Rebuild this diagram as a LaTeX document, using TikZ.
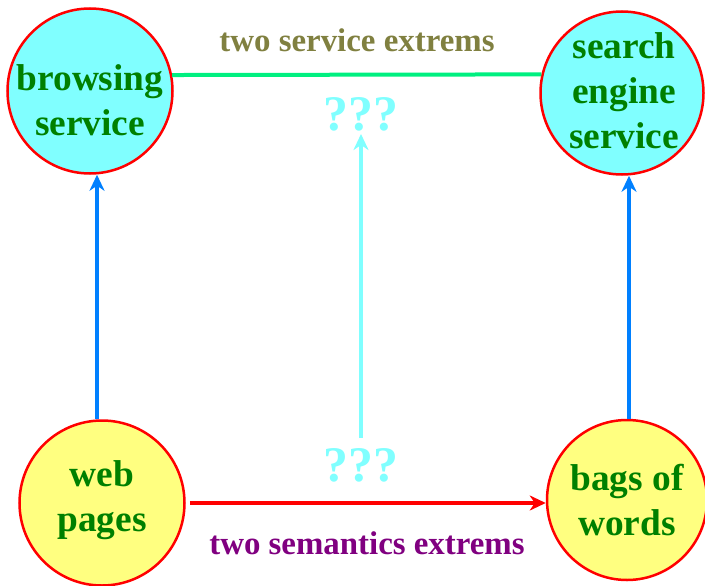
\documentclass[tikz,border=0pt]{standalone}
\usepackage{fontspec}
\setmainfont{Liberation Serif}
\usetikzlibrary{arrows.meta}
\definecolor{cfill}{HTML}{80FFFF}
\definecolor{yfill}{HTML}{FFFF80}
\definecolor{ntext}{HTML}{008000}
\definecolor{olivet}{HTML}{808040}
\definecolor{purplet}{HTML}{800080}
\definecolor{springg}{HTML}{00F080}
\definecolor{bluea}{HTML}{0080FF}
\definecolor{cyana}{HTML}{80FFFF}
\tikzset{
  bigc/.style={circle, draw=red, line width=2.5bp, minimum size=#1, inner sep=0pt},
  ntxt/.style={text=ntext, font=\fontsize{37.5}{45}\selectfont\bfseries, align=center, inner sep=0pt},
  lbl/.style={font=\fontsize{33}{38}\selectfont\bfseries, inner sep=0pt},
  qq/.style={text=cyana, font=\fontsize{50}{54}\selectfont\bfseries, inner sep=0pt, anchor=base},
  conn/.style={line width=4bp},
  tip/.style={-{Stealth[length=16bp, width=15bp, inset=5bp]}}
}
\begin{document}
\begin{tikzpicture}[x=1bp, y=-1bp]
\useasboundingbox (0,0) rectangle (705,586);
% circles
\node[bigc=165bp, fill=cfill] (browse) at (90,91) {};
\node[bigc=163bp, fill=cfill] (search) at (622,93) {};
\node[bigc=165bp, fill=yfill] (web) at (102,503) {};
\node[bigc=160bp, fill=yfill] (bags) at (627,500) {};
% texts
\node[ntxt] (tb) at (90,100) {browsing\\service};
\node[ntxt] (ts) at (624,91) {search\\engine\\service};
\node[ntxt] (tw) at (102,500) {web\\pages};
\node[ntxt] (tg) at (627,500) {bags of\\words};
% labels
\node[lbl, text=olivet] (l1) at (357,40) {two service extrems};
\node[lbl, text=purplet] (l2) at (367,543) {two semantics extrems};
\node[qq] (q1) at (361,131) {???};
\node[qq] (q2) at (361,481) {???};
% connectors
\draw[conn, springg] (browse.11) -- (search.167);
\draw[conn, bluea, tip] (web.north -| 97,0) -- (browse.south -| 97,0);
\draw[conn, bluea, tip] (bags.north -| 629,0) -- (search.south -| 629,0);
\draw[conn, red, tip] ([xshift=4bp]web.east) -- (web.east -| bags.west);
\draw[conn, cyana, tip] (361,438) coordinate (cb) -- (361,134) coordinate (ct);
\end{tikzpicture}
\end{document}
